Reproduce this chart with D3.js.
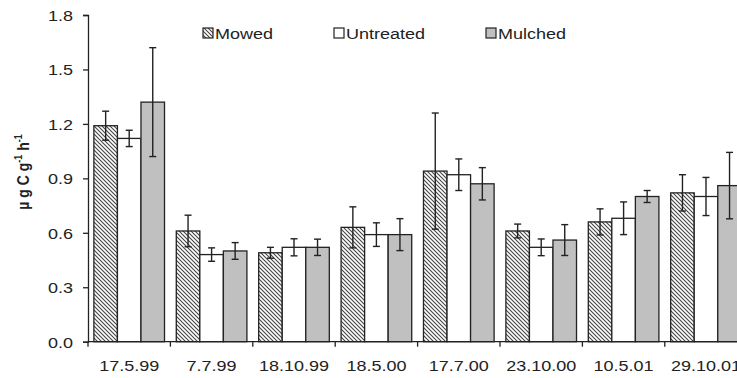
<!DOCTYPE html>
<html>
<head>
<meta charset="utf-8">
<script src="https://cdn.jsdelivr.net/npm/d3@7"></script>
<style>
  body { margin: 0; background: #fff; }
  text { font-family: "Liberation Sans", Arial, sans-serif; fill: #222; }
</style>
</head>
<body>
<svg width="737" height="378"></svg>
<script>
const svg = d3.select("svg");

// data
const dates = ["17.5.99", "7.7.99", "18.10.99", "18.5.00", "17.7.00", "23.10.00", "10.5.01", "29.10.01"];
const treatments = ["Mowed", "Untreated", "Mulched"];
const mowed = [1.19, 0.61, 0.49, 0.63, 0.94, 0.61, 0.66, 0.82];
const mowedErr = [0.08, 0.087, 0.03, 0.113, 0.32, 0.038, 0.072, 0.1];
const untreated = [1.12, 0.48, 0.52, 0.59, 0.92, 0.52, 0.68, 0.80];
const untreatedErr = [0.045, 0.037, 0.047, 0.065, 0.087, 0.046, 0.09, 0.105];
const mulched = [1.32, 0.50, 0.52, 0.59, 0.87, 0.56, 0.80, 0.86];
const mulchedErr = [0.30, 0.046, 0.045, 0.088, 0.089, 0.085, 0.033, 0.183];
const yTicks = [0, 0.3, 0.6, 0.9, 1.2, 1.5, 1.8];

const values = [mowed, untreated, mulched];
const errors = [mowedErr, untreatedErr, mulchedErr];

const mLeft = 88, mTop = 15, mBottom = 341.7;
const mRight = mLeft + 8 * 82.4;
const sx = 1.2; // text in the picture is stretched sideways

const x0 = d3.scaleBand().domain(dates).range([mLeft, mRight]).paddingInner(0).paddingOuter(0);
const x1 = d3.scaleBand().domain(treatments).range([0, x0.bandwidth()]).paddingInner(0).paddingOuter(0.25);
const y = d3.scaleLinear().domain([0, 1.8]).range([mBottom, mTop]);

// hatch pattern for Mowed
const defs = svg.append("defs");
const pat = defs.append("pattern")
  .attr("id", "hatch")
  .attr("patternUnits", "userSpaceOnUse")
  .attr("width", 4).attr("height", 4);
pat.append("rect").attr("width", 4).attr("height", 4).attr("fill", "#fff");
pat.append("path")
  .attr("d", "M-1,-1 L5,5 M-1,3 L1,5 M3,-1 L5,1")
  .attr("stroke", "#444").attr("stroke-width", 1.1);

const fills = { Mowed: "url(#hatch)", Untreated: "#fff", Mulched: "#c0c0c0" };

const rows = [];
dates.forEach((d, i) => {
  treatments.forEach((t, j) => {
    rows.push({ date: d, t: t, v: values[j][i], e: errors[j][i] });
  });
});

// bars
svg.append("g").selectAll("rect")
  .data(rows)
  .join("rect")
  .attr("x", d => x0(d.date) + x1(d.t))
  .attr("y", d => y(d.v))
  .attr("width", x1.bandwidth())
  .attr("height", d => y(0) - y(d.v))
  .attr("fill", d => fills[d.t])
  .attr("stroke", "#222")
  .attr("stroke-width", 1.3);

// error bars
const eb = svg.append("g").attr("stroke", "#222").attr("stroke-width", 1.4);
rows.forEach(d => {
  const cx = x0(d.date) + x1(d.t) + x1.bandwidth() / 2;
  eb.append("line").attr("x1", cx).attr("x2", cx).attr("y1", y(d.v + d.e)).attr("y2", y(d.v - d.e));
  eb.append("line").attr("x1", cx - 3.5).attr("x2", cx + 3.5).attr("y1", y(d.v + d.e)).attr("y2", y(d.v + d.e));
  eb.append("line").attr("x1", cx - 3.5).attr("x2", cx + 3.5).attr("y1", y(d.v - d.e)).attr("y2", y(d.v - d.e));
});

// y axis
const yAxis = svg.append("g")
  .attr("transform", `translate(${mLeft},0)`)
  .call(d3.axisLeft(y).tickValues(yTicks).tickFormat(d3.format(".1f")).tickSize(5));
yAxis.select(".domain").attr("stroke", "#222").attr("stroke-width", 1.3);
yAxis.selectAll(".tick line").attr("stroke", "#222").attr("stroke-width", 1.3);
yAxis.selectAll("text")
  .attr("x", -15 / sx)
  .attr("dy", "0.36em")
  .attr("transform", `scale(${sx},1)`)
  .style("font-size", "15px").attr("fill", "#222");

// x axis: ticks at group boundaries
const xAxis = svg.append("g").attr("transform", `translate(0,${mBottom})`);
xAxis.append("line").attr("x1", mLeft).attr("x2", mRight).attr("stroke", "#222").attr("stroke-width", 1.3);
xAxis.selectAll("line.tk")
  .data(dates)
  .join("line")
  .attr("class", "tk")
  .attr("x1", d => x0(d)).attr("x2", d => x0(d))
  .attr("y1", 0).attr("y2", 5)
  .attr("stroke", "#222").attr("stroke-width", 1.3);
xAxis.selectAll("text")
  .data(dates)
  .join("text")
  .attr("transform", d => `translate(${x0(d) + x0.bandwidth() / 2},29.5) scale(${sx},1)`)
  .attr("text-anchor", "middle")
  .style("font-size", "15px")
  .text(d => d);

// y label
const yl = svg.append("text")
  .attr("transform", "translate(29,172) rotate(-90) scale(1,1.2)")
  .attr("text-anchor", "middle")
  .style("font-size", "14px")
  .style("font-weight", "bold");
yl.append("tspan").text("\u00b5 g C g");
yl.append("tspan").attr("dy", -6).style("font-size", "9px").text("-1");
yl.append("tspan").attr("dy", 6).text(" h");
yl.append("tspan").attr("dy", -6).style("font-size", "9px").text("-1");

// legend
const legX = [203, 334, 486];
const leg = svg.append("g");
treatments.forEach((t, i) => {
  leg.append("rect")
    .attr("x", legX[i]).attr("y", 28)
    .attr("width", 10).attr("height", 10)
    .attr("fill", fills[t])
    .attr("stroke", "#222").attr("stroke-width", 1.2);
  leg.append("text")
    .attr("transform", `translate(${legX[i] + 12},38.7) scale(${sx},1)`)
    .style("font-size", "15px")
    .text(t);
});
</script>
</body>
</html>
